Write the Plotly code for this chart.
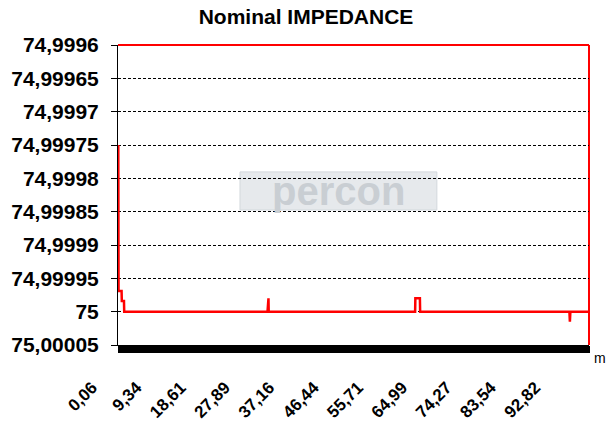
import plotly.graph_objects as go

# ---- data ----
distance_m = [0.06, 0.12, 0.75, 0.8, 1.25, 1.3, 31.3, 31.35, 31.5, 31.55,
              62.2, 62.25, 63.2, 63.25, 94.5, 94.6, 94.7, 98.6]
impedance = [74.99975, 74.999969, 74.999969, 74.999984, 74.999984, 75.0,
             75.0, 74.99998, 74.99998, 75.0,
             75.0, 74.99998, 74.99998, 75.0,
             75.0, 75.000015, 75.0, 75.0]

y_tick_vals = [74.9996, 74.99965, 74.9997, 74.99975, 74.9998,
               74.99985, 74.9999, 74.99995, 75.0, 75.00005]
y_tick_text = ["74,9996", "74,99965", "74,9997", "74,99975", "74,9998",
               "74,99985", "74,9999", "74,99995", "75", "75,00005"]

x_tick_vals = [0.06, 9.34, 18.61, 27.89, 37.16, 46.44, 55.71, 64.99, 74.27, 83.54, 92.82]
x_tick_text = ["0,06", "9,34", "18,61", "27,89", "37,16", "46,44",
               "55,71", "64,99", "74,27", "83,54", "92,82"]

FONT = "Liberation Sans"

fig = go.Figure()
fig.add_trace(go.Scatter(
    x=distance_m, y=impedance, mode="lines",
    line=dict(color="#ff0000", width=2.5),
    hoverinfo="x+y", showlegend=False,
))

fig.update_layout(
    width=612, height=423,
    margin=dict(l=118, r=23, t=45, b=78, autoexpand=False),
    paper_bgcolor="white", plot_bgcolor="white",
    font=dict(family=FONT, color="black"),
    title=dict(text="<b>Nominal IMPEDANCE</b>", x=0.5, xanchor="center",
               y=1 - 17 / 423, yanchor="middle", yref="container",
               font=dict(family=FONT, size=21, color="black")),
    xaxis=dict(
        range=[0.0, 98.6], showgrid=False, zeroline=False, automargin=False,
        tickmode="array", tickvals=x_tick_vals, ticktext=x_tick_text,
        tickangle=-45, ticks="outside", ticklen=7, tickcolor="black",
        tickfont=dict(family=FONT, size=17, color="black", weight="bold"),
        ticklabelstandoff=18, ticklabelshift=-26,
        showline=True, linecolor="black", linewidth=1,
        minor=dict(ticks="outside", dtick=0.2, tick0=0, ticklen=7,
                   tickcolor="black", tickwidth=1, showgrid=False),
    ),
    yaxis=dict(
        range=[75.00005, 74.9996], zeroline=False, automargin=False,
        tickmode="array", tickvals=y_tick_vals, ticktext=y_tick_text,
        ticks="outside", ticklen=6, tickcolor="black",
        tickfont=dict(family=FONT, size=21, color="black", weight="bold"),
        ticklabelstandoff=8,
        showgrid=True, gridcolor="black", gridwidth=1, griddash="3px,2px",
        showline=True, linecolor="black", linewidth=1,
    ),
    shapes=[
        # watermark box
        dict(type="rect", xref="paper", yref="paper",
             x0=0.259, x1=0.677, y0=0.45, y1=0.577,
             fillcolor="#e6e9ec", line=dict(color="#d3d8dd", width=1),
             layer="below"),
        # red frame top and right
        dict(type="line", xref="paper", yref="paper", x0=0, x1=1, y0=1, y1=1,
             line=dict(color="#ff0000", width=2), layer="between"),
        dict(type="line", xref="paper", yref="paper", x0=1, x1=1, y0=0, y1=1,
             line=dict(color="#ff0000", width=2), layer="between"),
    ],
    annotations=[
        dict(text="<b>percon</b>", xref="paper", yref="paper",
             x=0.469, y=0.513, xanchor="center", yanchor="middle",
             showarrow=False,
             font=dict(family=FONT, size=40, color="#c9ced3")),
        dict(text="m", xref="paper", yref="paper",
             x=1 + 11 / 471, y=-13 / 300, xanchor="center", yanchor="middle",
             showarrow=False, font=dict(family=FONT, size=14, color="black")),
    ],
)

fig.write_html(
    "out.html",
    config={"displayModeBar": False},
    post_script="document.body.style.margin='0';document.body.style.padding='0';",
)
